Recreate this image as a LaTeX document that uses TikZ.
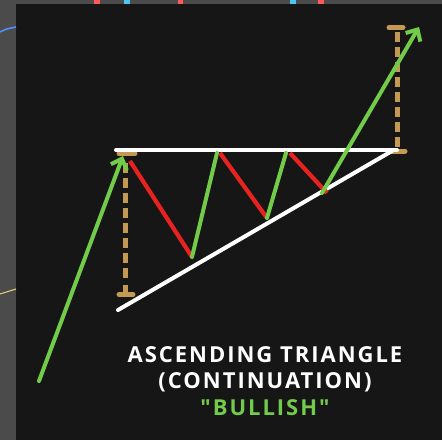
\documentclass[tikz,border=0pt]{standalone}
\usepackage{fontspec}
\newfontfamily\titlefont[LetterSpace=9]{Open Sans}
\usetikzlibrary{arrows.meta,calc}
\definecolor{boardBg}{HTML}{161616}
\definecolor{frameGray}{HTML}{4b4b4b}
\definecolor{upColor}{HTML}{72cc4a}
\definecolor{downColor}{HTML}{e8231f}
\definecolor{measColor}{HTML}{c49a52}

\begin{document}
\begin{tikzpicture}[
  x=1pt, y=-1pt,
  trend/.style ={draw=white, line width=4pt, line cap=round},
  upleg/.style ={draw=upColor, line width=4pt, line cap=round},
  downleg/.style={draw=downColor, line width=4.2pt},
  upArr/.style ={upleg, -{Straight Barb[length=9pt, width=17pt, line width=4pt]}},
  meas/.style  ={draw=measColor, line width=4.4pt, dash pattern=on 10pt off 5pt},
  measbar/.style={draw=measColor, line width=5pt, line cap=round},
  ttl/.style   ={font=\titlefont\bfseries\fontsize{22}{26}\selectfont, text=white, inner sep=0pt},
]
\useasboundingbox (0,0) rectangle (442,440);

% ==================== Frame and board ====================
\fill[frameGray] (0,0) rectangle (442,440);
\fill[boardBg] (16,4) rectangle (442,440);
\draw[blue!60!cyan!70!white, line width=1.5pt] (0,32) .. controls (6,29) .. (16,27);
\draw[yellow!50!brown!60!white, line width=1pt] (0,294) -- (16,289);
\fill[red!65!white] (94,0) rectangle (100,4);
\fill[cyan!70!white] (124,0) rectangle (130,4);
\fill[red!65!white] (178,0) rectangle (183,4);
\fill[cyan!70!white] (290,0) rectangle (296,4);
\fill[red!65!white] (318,0) rectangle (324,4);

% ==================== Points ====================
\coordinate (start) at (39,381);
\coordinate (topL) at (116,150);
\coordinate (topR) at (397,150);
\coordinate (baseL) at (118,310);
\coordinate (baseR) at (392,151);
\coordinate (p1) at (130,161);
\coordinate (l1) at (192,257);
\coordinate (h1) at (217,153);
\coordinate (l2) at (267,218);
\coordinate (h2) at (286,153);
\coordinate (l3) at (327,193);
\coordinate (tgt) at (419,27);

% ==================== Measuring bars ====================
\draw[meas] (125.5,163) -- (125.5,282);
\draw[measColor, line width=4.4pt] (125.5,285) -- (125.5,294);
\draw[measbar] (119,153.5) -- (135,153.5);
\draw[measbar] (119,294.5) -- (133,294.5);
\draw[meas] (397.5,32) -- (397.5,150);
\draw[measbar] (389,27.5) -- (403,27.5);
\draw[measbar] (391,151) -- (405,151);

% ==================== Triangle ====================
\draw[trend] (topL) -- (topR);
\draw[trend] (baseL) -- (baseR);

% ==================== Price legs ====================
\draw[upArr] (start) -- (123,156);
\draw[downleg] (p1) -- (l1);
\draw[upleg] (l1) -- (h1);
\draw[downleg] (220,153) -- (l2);
\draw[upleg] (l2) -- (h2);
\draw[downleg] (290,153) -- (l3);
\draw[upArr] (322,193) -- (tgt);

% ==================== Title ====================
\node[ttl] (t1) at (265,355) {ASCENDING TRIANGLE};
\node[ttl] (t2) at (265,382) {(CONTINUATION)};
\node[ttl, text=upColor] (t3) at (265,408) {"BULLISH"};
\end{tikzpicture}
\end{document}
